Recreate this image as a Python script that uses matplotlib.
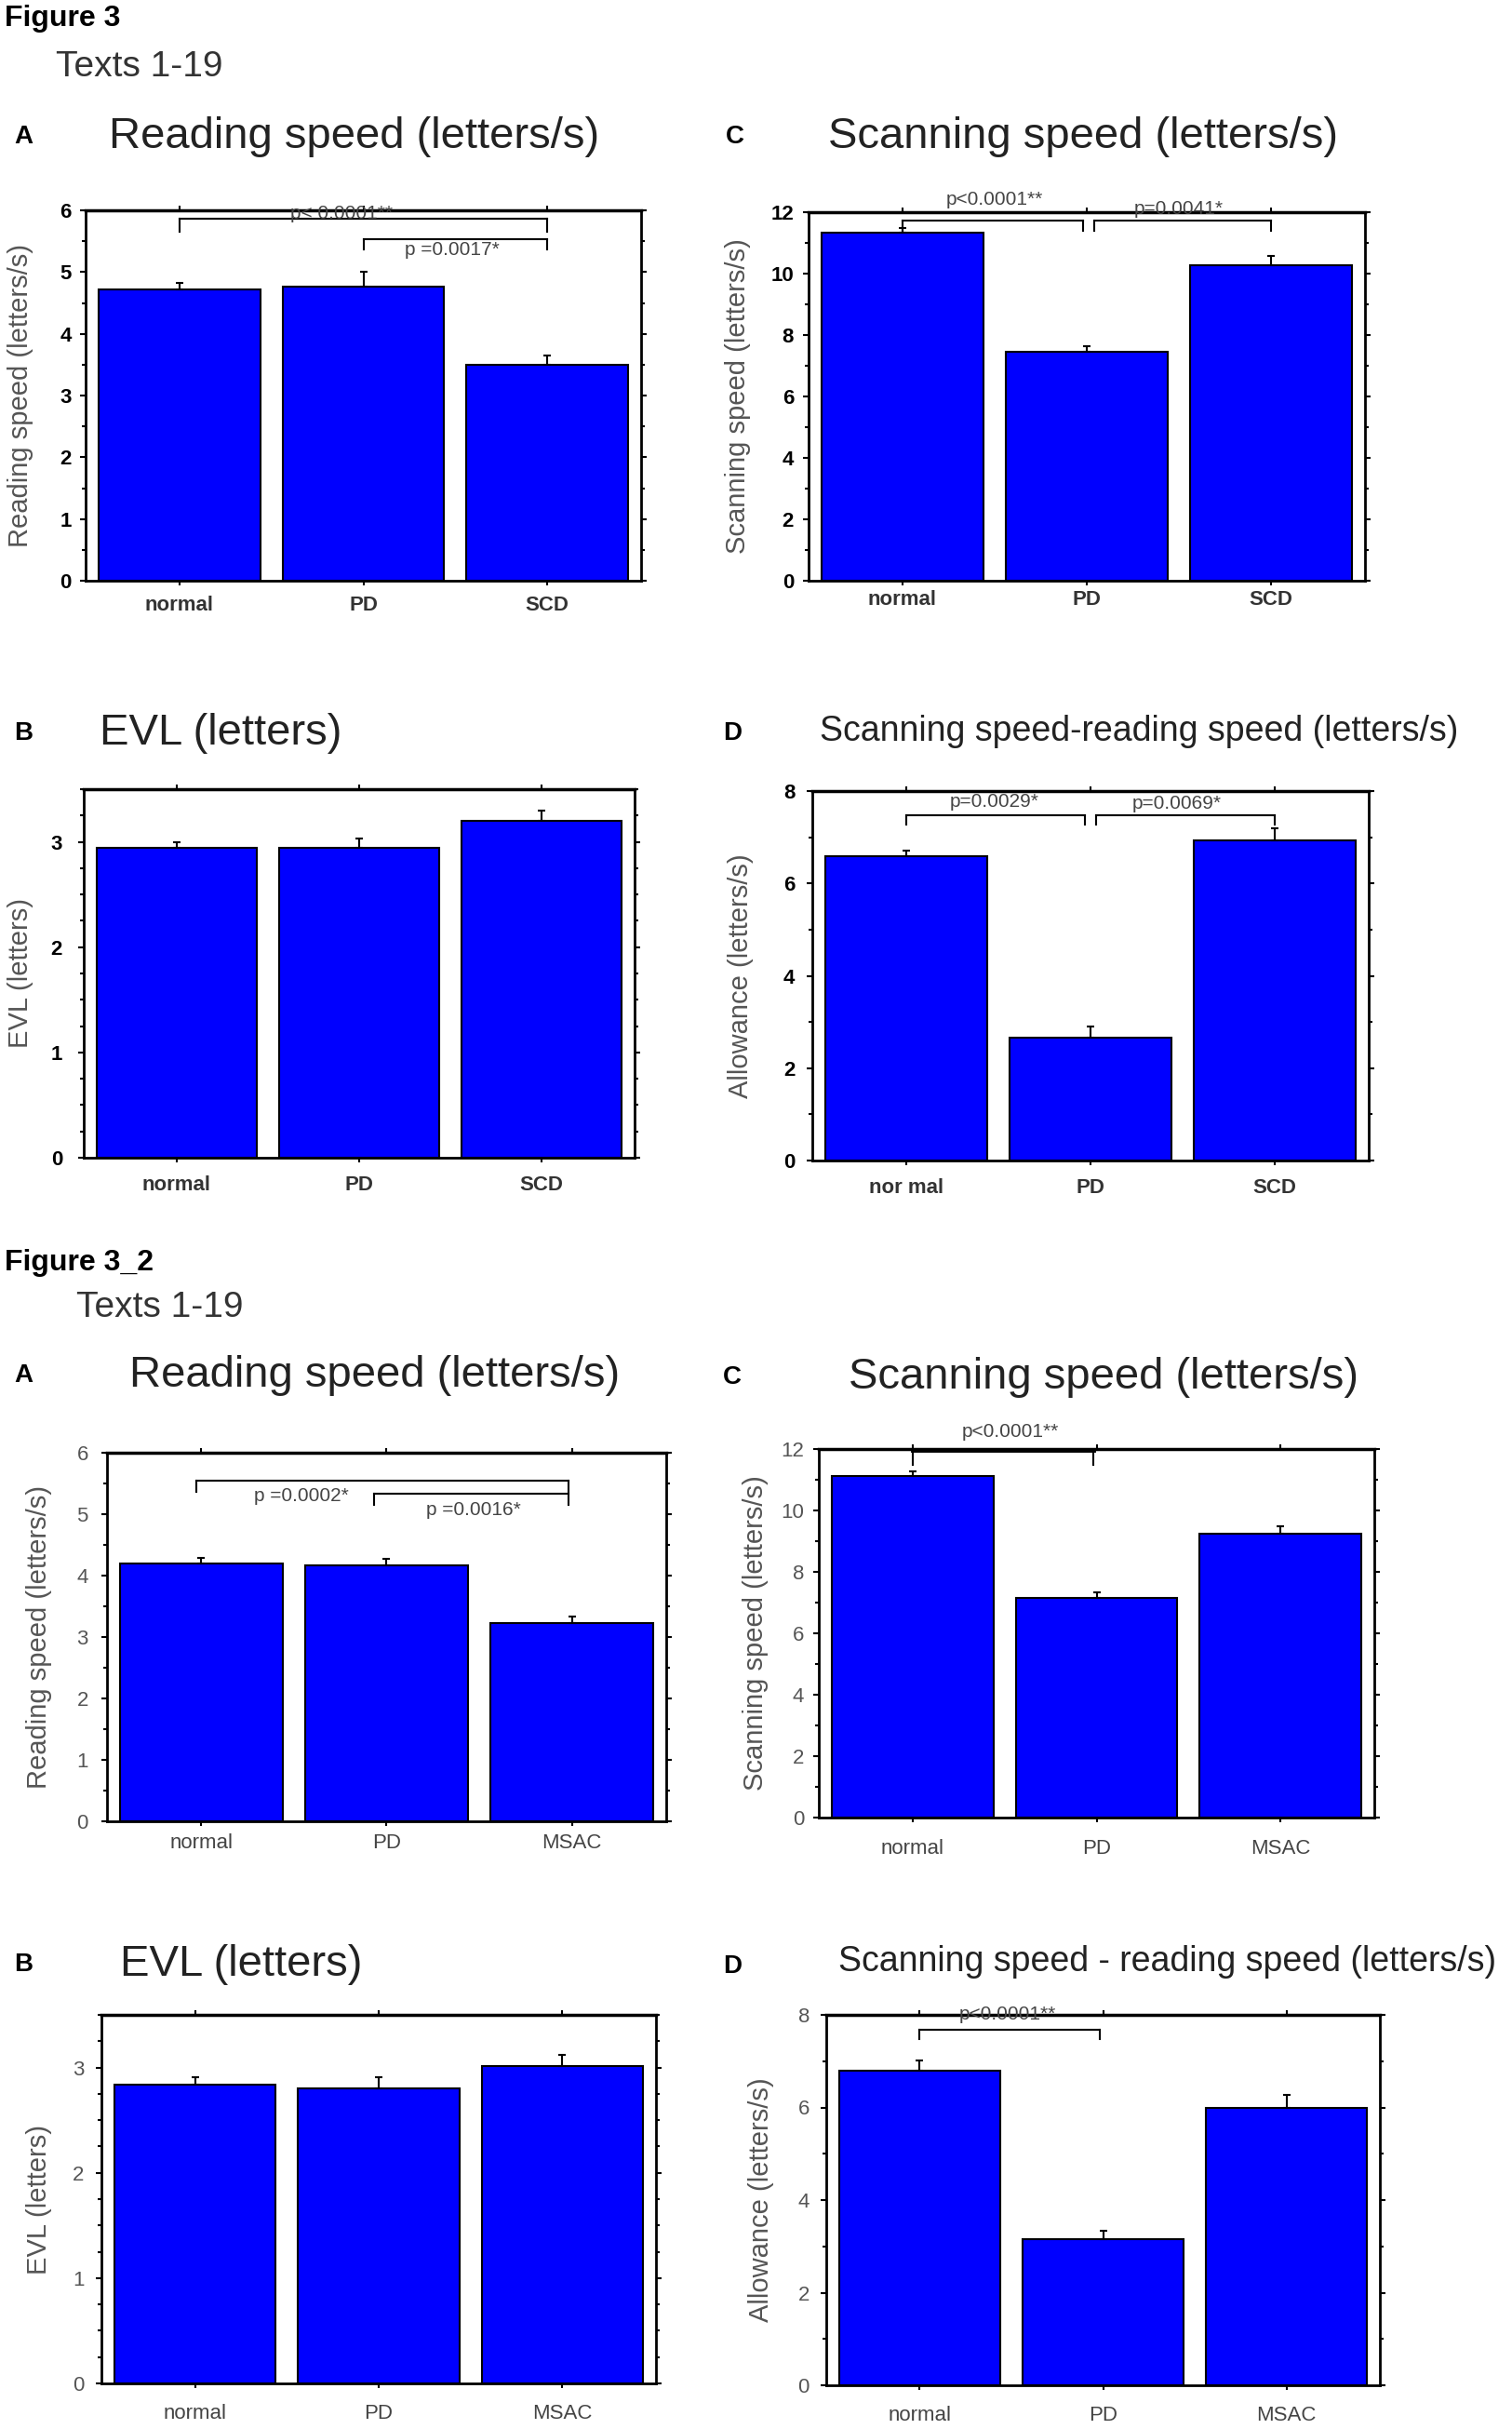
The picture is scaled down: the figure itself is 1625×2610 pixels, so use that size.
import matplotlib
matplotlib.use('Agg')
import matplotlib.pyplot as plt
import numpy as np
from matplotlib.ticker import MultipleLocator

W, H = 1625, 2610
plt.rcParams['font.family'] = ['Liberation Sans', 'DejaVu Sans']

# categories
groups_3 = ['normal', 'PD', 'SCD']
groups_3d = ['nor mal', 'PD', 'SCD']
groups_32 = ['normal', 'PD', 'MSAC']

# Figure 3 values (mean, upper error)
f3_reading = [4.72, 4.76, 3.49]
f3_reading_err = [0.10, 0.25, 0.16]
f3_scanning = [11.34, 7.46, 10.26]
f3_scanning_err = [0.13, 0.18, 0.32]
f3_evl = [2.94, 2.94, 3.20]
f3_evl_err = [0.06, 0.09, 0.10]
f3_allow = [6.58, 2.65, 6.94]
f3_allow_err = [0.14, 0.26, 0.26]

# Figure 3_2 values
f32_reading = [4.19, 4.17, 3.23]
f32_reading_err = [0.10, 0.10, 0.10]
f32_scanning = [11.13, 7.15, 9.24]
f32_scanning_err = [0.15, 0.18, 0.26]
f32_evl = [2.84, 2.80, 3.01]
f32_evl_err = [0.07, 0.11, 0.11]
f32_allow = [6.79, 3.15, 6.00]
f32_allow_err = [0.22, 0.19, 0.27]

# significance brackets: (group i, group j, label)
f3_reading_sig = [(0, 2, 'p< 0.0001**'), (1, 2, 'p =0.0017*')]
f3_scanning_sig = [(0, 1, 'p<0.0001**'), (1, 2, 'p=0.0041*')]
f3_allow_sig = [(0, 1, 'p=0.0029*'), (1, 2, 'p=0.0069*')]
f32_reading_sig = [(0, 2, 'p =0.0002*'), (1, 2, 'p =0.0016*')]
f32_scanning_sig = [(0, 1, 'p<0.0001**')]
f32_allow_sig = [(0, 1, 'p<0.0001**')]

# bracket geometry per sig entry: (dx1, dx2, y_top, y_end, text_x, text_y, line width)
panels = [
    dict(rect=(92, 226, 689, 624), cats=groups_3, vals=f3_reading, err=f3_reading_err,
         ytop=6, major=1, minor=0.5, ylabel='Reading speed (letters/s)', ylab_x=22,
         title='Reading speed (letters/s)', title_xy=(117, 147), tsize=34,
         letter='A', letter_xy=(15, 147), sig=f3_reading_sig,
         br=[(0, 0, 5.86, 5.66, 0.88, 5.95, 1.5), (0, 0, 5.54, 5.36, 1.48, 5.36, 1.5)],
         style='f3', xpad=8, ypad=6.5),
    dict(rect=(869, 228, 1467, 624), cats=groups_3, vals=f3_scanning, err=f3_scanning_err,
         ytop=12, major=2, minor=1, ylabel='Scanning speed (letters/s)', ylab_x=793,
         title='Scanning speed (letters/s)', title_xy=(890, 147), tsize=34,
         letter='C', letter_xy=(780, 147), sig=f3_scanning_sig,
         br=[(0, -0.02, 11.74, 11.38, 0.5, 12.4, 1.5), (0.04, 0, 11.74, 11.38, 1.5, 12.1, 1.5)],
         style='f3', xpad=4, ypad=7),
    dict(rect=(90, 848, 682, 1244), cats=groups_3, vals=f3_evl, err=f3_evl_err,
         ytop=3.5, major=1, minor=0.25, ylabel='EVL (letters)', ylab_x=22,
         title='EVL (letters)', title_xy=(107, 788), tsize=34,
         letter='B', letter_xy=(15, 788), sig=[], br=[],
         style='f3', xpad=10, ypad=12),
    dict(rect=(873, 850, 1471, 1247), cats=groups_3d, vals=f3_allow, err=f3_allow_err,
         ytop=8, major=2, minor=1, ylabel='Allowance (letters/s)', ylab_x=796,
         title='Scanning speed-reading speed (letters/s)', title_xy=(881, 786), tsize=27,
         letter='D', letter_xy=(777, 788), sig=f3_allow_sig,
         br=[(0, -0.03, 7.48, 7.28, 0.48, 7.76, 1.5), (0.03, 0, 7.48, 7.28, 1.47, 7.72, 1.5)],
         style='f3', xpad=10, ypad=9),
    dict(rect=(115, 1561, 716, 1957), cats=groups_32, vals=f32_reading, err=f32_reading_err,
         ytop=6, major=1, minor=0.5, ylabel='Reading speed (letters/s)', ylab_x=42,
         title='Reading speed (letters/s)', title_xy=(139, 1478), tsize=34,
         letter='A', letter_xy=(15, 1478), sig=f32_reading_sig,
         br=[(-0.03, -0.02, 5.55, 5.37, 0.54, 5.3, 1.5), (-0.07, -0.02, 5.34, 5.15, 1.47, 5.07, 1.5)],
         style='f32', xpad=6, ypad=10),
    dict(rect=(880, 1557, 1477, 1953), cats=groups_32, vals=f32_scanning, err=f32_scanning_err,
         ytop=12, major=2, minor=1, ylabel='Scanning speed (letters/s)', ylab_x=812,
         title='Scanning speed (letters/s)', title_xy=(912, 1480), tsize=34,
         letter='C', letter_xy=(777, 1480), sig=f32_scanning_sig,
         br=[(0, -0.02, 11.97, 11.5, 0.53, 12.56, 3.5)],
         style='f32', xpad=13, ypad=7),
    dict(rect=(109, 2165, 705, 2561), cats=groups_32, vals=f32_evl, err=f32_evl_err,
         ytop=3.5, major=1, minor=0.25, ylabel='EVL (letters)', ylab_x=42,
         title='EVL (letters)', title_xy=(129, 2111), tsize=34,
         letter='B', letter_xy=(15, 2111), sig=[], br=[],
         style='f32', xpad=12, ypad=9),
    dict(rect=(888, 2165, 1483, 2563), cats=groups_32, vals=f32_allow, err=f32_allow_err,
         ytop=8, major=2, minor=1, ylabel='Allowance (letters/s)', ylab_x=818,
         title='Scanning speed - reading speed (letters/s)', title_xy=(901, 2108), tsize=27,
         letter='D', letter_xy=(777, 2113), sig=f32_allow_sig,
         br=[(0, -0.02, 7.68, 7.47, 0.48, 8.0, 1.5)],
         style='f32', xpad=12, ypad=8.5),
]


def px_rect(l, t, r, b):
    return [l / W, 1 - b / H, (r - l) / W, (b - t) / H]


fig = plt.figure(figsize=(W / 100, H / 100), dpi=100)

for p in panels:
    l, t, r, b = p['rect']
    ax = fig.add_axes(px_rect(l, t, r, b))
    x = np.arange(len(p['cats']))
    ax.bar(x, p['vals'], width=0.88, color='#0000ff', edgecolor='black',
           linewidth=1.5, zorder=2)
    ax.errorbar(x, p['vals'], yerr=[np.zeros(len(x)), p['err']], fmt='none',
                ecolor='black', elinewidth=1.5, capsize=3, capthick=1.5, zorder=3)
    ax.set_xlim(-0.51, 2.51)
    ax.set_ylim(0, p['ytop'])
    ax.yaxis.set_major_locator(MultipleLocator(p['major']))
    ax.yaxis.set_minor_locator(MultipleLocator(p['minor']))
    ax.set_xticks(x)
    ax.set_xticklabels(p['cats'])

    if p['style'] == 'f3':
        ycol, xcol, wt, fs = 'black', '#333333', 'bold', 16
    else:
        ycol, xcol, wt, fs = '#555555', '#444444', 'normal', 16
    ax.tick_params(axis='both', which='both', direction='out', top=True, right=True,
                   width=1.5, color='black')
    ax.tick_params(axis='y', which='major', length=4.5, pad=p['ypad'], labelsize=fs,
                   labelcolor=ycol)
    ax.tick_params(axis='y', which='minor', length=3)
    ax.tick_params(axis='x', which='major', length=3.5, pad=p['xpad'], labelsize=fs,
                   labelcolor=xcol)
    for lab in ax.get_xticklabels() + ax.get_yticklabels():
        lab.set_fontweight(wt)

    for side, sp in ax.spines.items():
        sp.set_linewidth(2.5 if side == 'top' else 2)

    ax.set_ylabel(p['ylabel'], fontsize=21, color='#555555', va='center')
    ax.yaxis.set_label_coords((p['ylab_x'] - l) / (r - l), 0.5)

    for (i, j, label), (dx1, dx2, yt, ye, tx, ty, lw) in zip(p['sig'], p['br']):
        x1, x2 = i + dx1, j + dx2
        ax.plot([x1, x1], [ye, yt], color='black', lw=1.5, clip_on=False, zorder=4)
        ax.plot([x2, x2], [ye, yt], color='black', lw=1.5, clip_on=False, zorder=4)
        ax.plot([x1, x2], [yt, yt], color='black', lw=lw, clip_on=False, zorder=4)
        ax.text(tx, ty, label, ha='center', va='center', fontsize=15,
                color='#444444', clip_on=False, zorder=5)

    tx, ty = p['title_xy']
    fig.text(tx / W, 1 - ty / H, p['title'], ha='left', va='center',
             fontsize=p['tsize'], color='#222222')
    lx, ly = p['letter_xy']
    fig.text(lx / W, 1 - ly / H, p['letter'], ha='left', va='center',
             fontsize=20, fontweight='bold', color='black')

fig.text(5 / W, 1 - 20 / H, 'Figure 3', ha='left', va='center', fontsize=23,
         fontweight='bold')
fig.text(60 / W, 1 - 72 / H, 'Texts 1-19', ha='left', va='center', fontsize=28,
         color='#333333')
fig.text(5 / W, 1 - 1357 / H, 'Figure 3_2', ha='left', va='center', fontsize=23,
         fontweight='bold')
fig.text(82 / W, 1 - 1405 / H, 'Texts 1-19', ha='left', va='center', fontsize=28,
         color='#333333')

fig.savefig('out.png', dpi=100, facecolor='white')
